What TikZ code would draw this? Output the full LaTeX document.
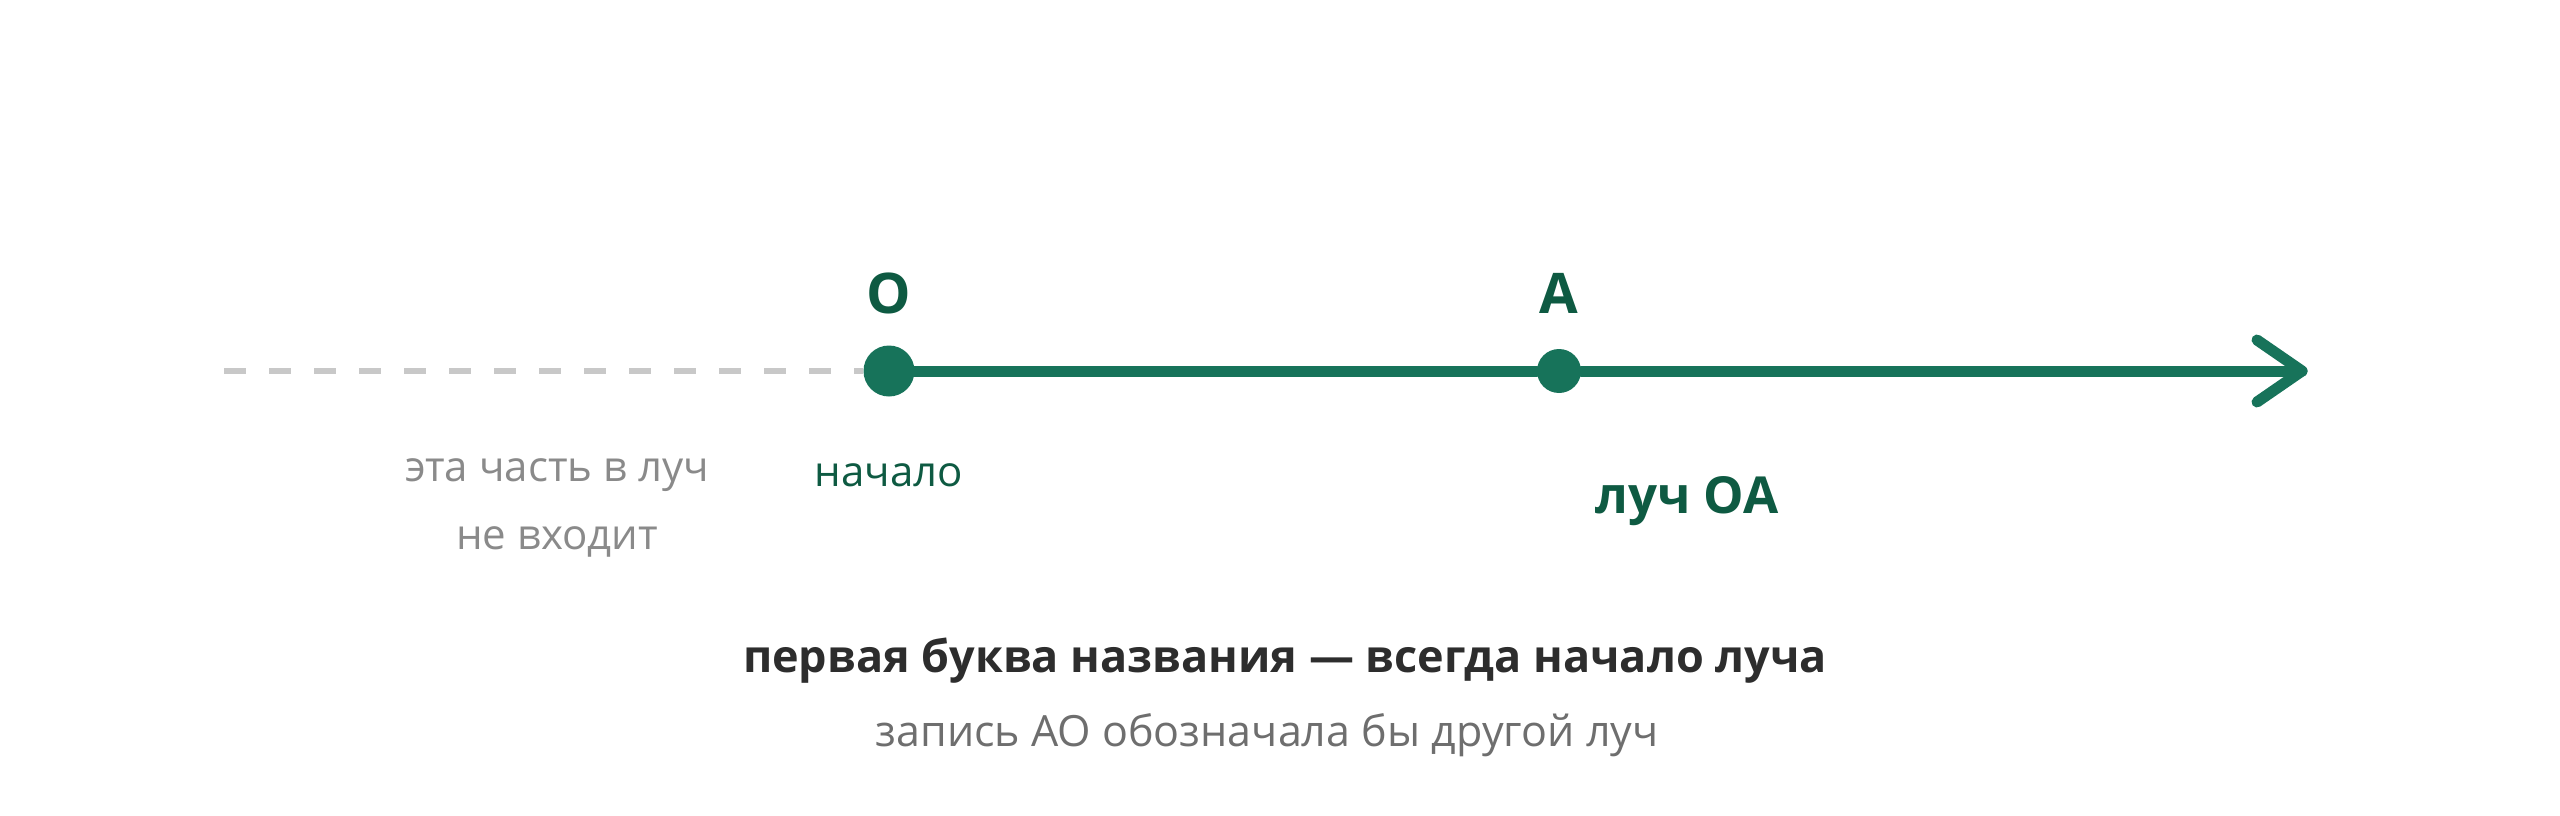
\documentclass[tikz,border=0pt]{standalone}
\usepackage{fontspec}
\setmainfont{Open Sans}
\definecolor{raygreen}{HTML}{17735A}
\definecolor{labgreen}{HTML}{0E5A42}
\definecolor{dashgray}{HTML}{C8C8C8}
\definecolor{notegray}{HTML}{8A8A8A}
\definecolor{darktext}{HTML}{2D2D2D}
\definecolor{subgray}{HTML}{6E6E6E}
\tikzset{
  dashline/.style={draw=dashgray, line width=6pt, dash pattern=on 22pt off 23pt},
  rayline/.style={draw=raygreen, line width=11pt, line cap=round, line join=round},
  bigdot/.style={circle, fill=raygreen, inner sep=0pt, minimum size=51pt},
  smalldot/.style={circle, fill=raygreen, inner sep=0pt, minimum size=44pt},
  ptlabel/.style={text=labgreen, font=\bfseries\fontsize{56}{62}\selectfont, inner sep=0pt},
  rayname/.style={text=labgreen, font=\bfseries\fontsize{51}{57}\selectfont, inner sep=0pt},
  startnote/.style={text=labgreen, font=\fontsize{42}{48}\selectfont, inner sep=0pt},
  grynote/.style={text=notegray, font=\fontsize{42}{48}\selectfont, inner sep=0pt},
  headline/.style={text=darktext, font=\bfseries\fontsize{45}{51}\selectfont, inner sep=0pt},
  subline/.style={text=subgray, font=\fontsize{43}{49}\selectfont, inner sep=0pt}
}
\begin{document}
\begin{tikzpicture}[x=1pt,y=-1pt]
\useasboundingbox (0,0) rectangle (2560,816);
\coordinate (start) at (224,371);
\coordinate (tip) at (2302,371);
\node[bigdot] (O) at (889,371) {};
\node[smalldot] (A) at (1559,371) {};
\draw[dashline] (start) -- (O);
\draw[rayline] (O) -- (A);
\draw[rayline] (A) -- (tip);
\draw[rayline] (tip) ++(-45,-31) -- (tip) -- ++(-45,31);
\node[ptlabel] (Olab) at (889,293) {O};
\node[ptlabel] (Alab) at (1559,293) {A};
\node[startnote] (nach) at (889,475) {начало};
\node[grynote] (note1) at (557,475) {эта часть в луч};
\node[grynote] (note2) at (557,542) {не входит};
\node[rayname] (rn) at (1687,501) {луч OA};
\node[headline] (head) at (1285,661) {первая буква названия — всегда начало луча};
\node[subline] (sub) at (1267,735) {запись AO обозначала бы другой луч};
\end{tikzpicture}
\end{document}
